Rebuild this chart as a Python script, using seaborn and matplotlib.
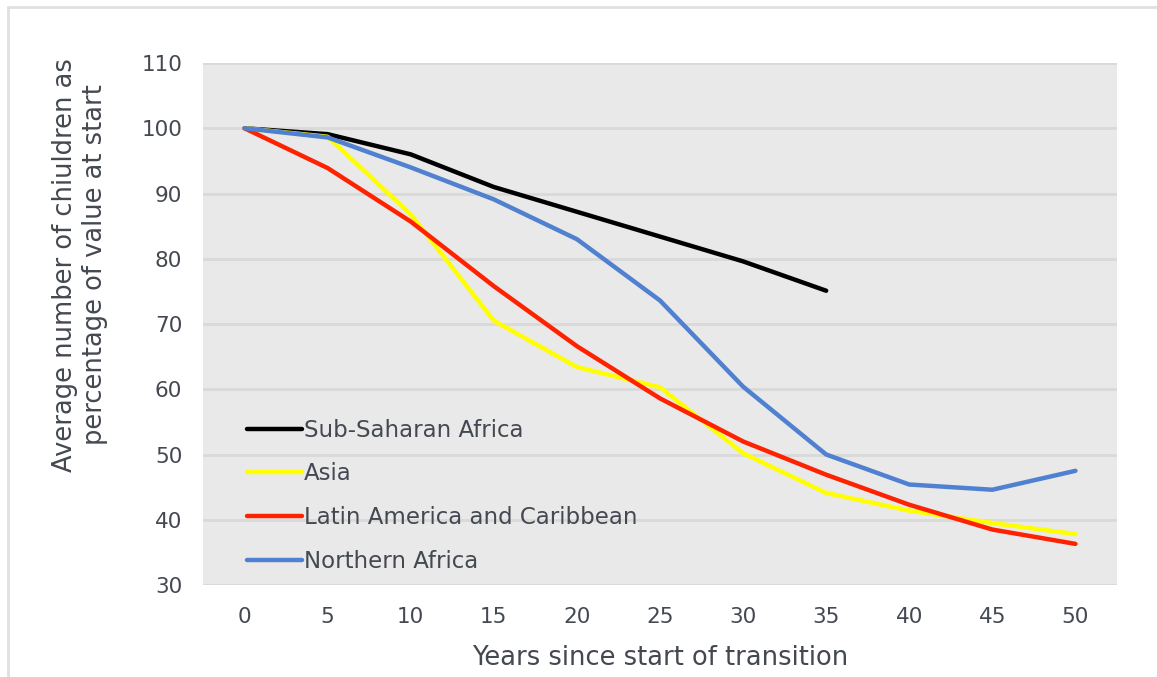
import pandas as pd
import numpy as np
import matplotlib
matplotlib.use('Agg')
import matplotlib.pyplot as plt
import seaborn as sns

# values
years = [0, 5, 10, 15, 20, 25, 30, 35, 40, 45, 50]
sub_saharan = [100, 99.1, 96.0, 91.0, 87.2, 83.4, 79.6, 75.1]
asia = [100, 98.7, 86.8, 70.5, 63.4, 60.3, 50.2, 44.1, 41.4, 39.5, 37.8]
latin_america = [100, 93.9, 85.7, 75.8, 66.6, 58.6, 52.0, 46.9, 42.3, 38.5, 36.3]
northern_africa = [100, 98.6, 94.0, 89.1, 83.0, 73.6, 60.4, 50.0, 45.4, 44.6, 47.5]

regions = ['Sub-Saharan Africa', 'Asia', 'Latin America and Caribbean', 'Northern Africa']
colors = ['#000000', '#ffff00', '#ff2200', '#5080d0']
y_ticks = [30, 40, 50, 60, 70, 80, 90, 100, 110]

series = [sub_saharan, asia, latin_america, northern_africa]
frames = []
for name, vals in zip(regions, series):
    frames.append(pd.DataFrame({'year': years[:len(vals)], 'value': vals, 'region': name}))
df = pd.concat(frames, ignore_index=True)

sns.set_theme(style='whitegrid')
plt.rcParams['font.family'] = ['DejaVu Sans']
text_color = '#444850'

fig = plt.figure(figsize=(11.57, 6.77), dpi=100)
ax = fig.add_axes([0.1755, 0.1359, 0.7899, 0.771])
ax.set_facecolor('#e9e9e9')

sns.lineplot(data=df, x='year', y='value', hue='region', hue_order=regions,
             palette=dict(zip(regions, colors)), linewidth=3.2, ax=ax,
             sort=False, estimator=None)

ax.set_xlim(-2.5, 52.5)
ax.set_ylim(30, 110)
ax.set_xticks(years)
ax.set_yticks(y_ticks)
ax.grid(axis='x', visible=False)
ax.grid(axis='y', color='#d9d9d9', linewidth=2)
ax.set_axisbelow(True)
for s in ax.spines.values():
    s.set_visible(False)
ax.tick_params(axis='both', length=0, labelsize=15.5, labelcolor=text_color)
ax.tick_params(axis='x', pad=16)
ax.tick_params(axis='y', pad=15)

ax.set_xlabel('Years since start of transition', fontsize=18.5, color=text_color, labelpad=13)
ax.set_ylabel('Average number of chiuldren as\npercentage of value at start',
              fontsize=18.5, color=text_color)
ax.yaxis.set_label_coords(-0.104, 0.613)

leg = ax.legend(loc='lower left', bbox_to_anchor=(0.025, -0.016), frameon=False,
                fontsize=16.5, handlelength=2.4, handletextpad=0.1, labelspacing=0.9)
for t in leg.get_texts():
    t.set_color(text_color)

# light frame around the chart
fig.add_artist(plt.Line2D([0.007, 0.007], [0.0, 0.99], color='#e0e0e0', linewidth=2))
fig.add_artist(plt.Line2D([0.007, 1.0], [0.99, 0.99], color='#e0e0e0', linewidth=2))

fig.savefig('out.png', dpi=100)
